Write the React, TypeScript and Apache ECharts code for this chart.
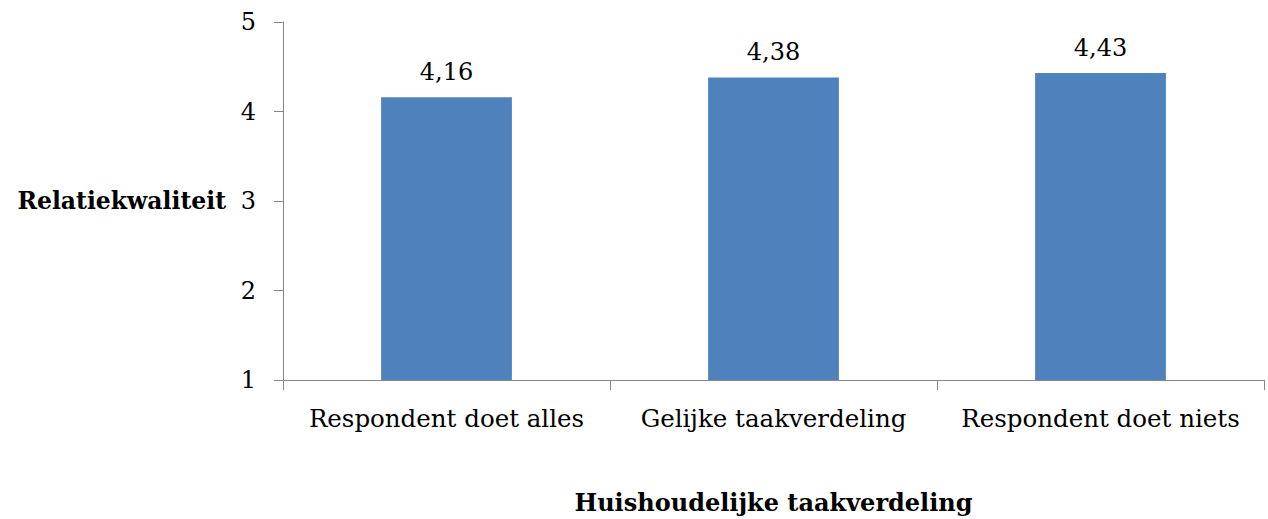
import React, { useEffect, useRef } from "react";
import * as echarts from "echarts";

const categories = ["Respondent doet alles", "Gelijke taakverdeling", "Respondent doet niets"];
const values = [4.16, 4.38, 4.43];
const yTicks = [1, 2, 3, 4, 5];
const yAxisTitle = "Relatiekwaliteit";
const xAxisTitle = "Huishoudelijke taakverdeling";

const FONT = "DejaVu Serif";

export default function App() {
  const ref = useRef<HTMLDivElement>(null);
  useEffect(() => {
    document.body.style.margin = "0";
    const chart = echarts.init(ref.current!, null, { renderer: "svg" });
    chart.setOption({
      animation: false,
      backgroundColor: "#ffffff",
      grid: { left: 283, right: 4, top: 22, bottom: 136, containLabel: false },
      xAxis: {
        type: "category",
        data: categories,
        axisLine: { lineStyle: { color: "#868686", width: 1 } },
        axisTick: { show: true, length: 10, alignWithLabel: false, lineStyle: { color: "#868686" } },
        axisLabel: { color: "#000", fontFamily: FONT, fontSize: 24.5, margin: 26, interval: 0, hideOverlap: false },
        name: xAxisTitle,
        nameLocation: "middle",
        nameGap: 110,
        nameTextStyle: { color: "#000", fontFamily: FONT, fontSize: 24, fontWeight: "bold", verticalAlign: "top" },
      },
      yAxis: {
        type: "value",
        min: yTicks[0],
        max: yTicks[yTicks.length - 1],
        interval: 1,
        axisLine: { show: true, lineStyle: { color: "#868686", width: 1 } },
        axisTick: { show: true, length: 9, lineStyle: { color: "#868686" } },
        splitLine: { show: false },
        axisLabel: { color: "#000", fontFamily: FONT, fontSize: 24, margin: 27 },
        name: yAxisTitle,
        nameLocation: "middle",
        nameRotate: 0,
        nameGap: 57,
        nameTextStyle: { color: "#000", fontFamily: FONT, fontSize: 23.5, fontWeight: "bold", align: "right", verticalAlign: "middle" },
      },
      series: [
        {
          type: "bar",
          data: values,
          barWidth: "40%",
          itemStyle: { color: "#4F81BD" },
          label: {
            show: true,
            position: "top",
            distance: 13,
            color: "#000",
            fontFamily: FONT,
            fontSize: 24,
            formatter: (p: any) => p.value.toFixed(2).replace(".", ","),
          },
        },
      ],
    });
    return () => chart.dispose();
  }, []);
  return <div ref={ref} style={{ position: "fixed", left: 0, top: 0, width: 1268, height: 519 }} />;
}
